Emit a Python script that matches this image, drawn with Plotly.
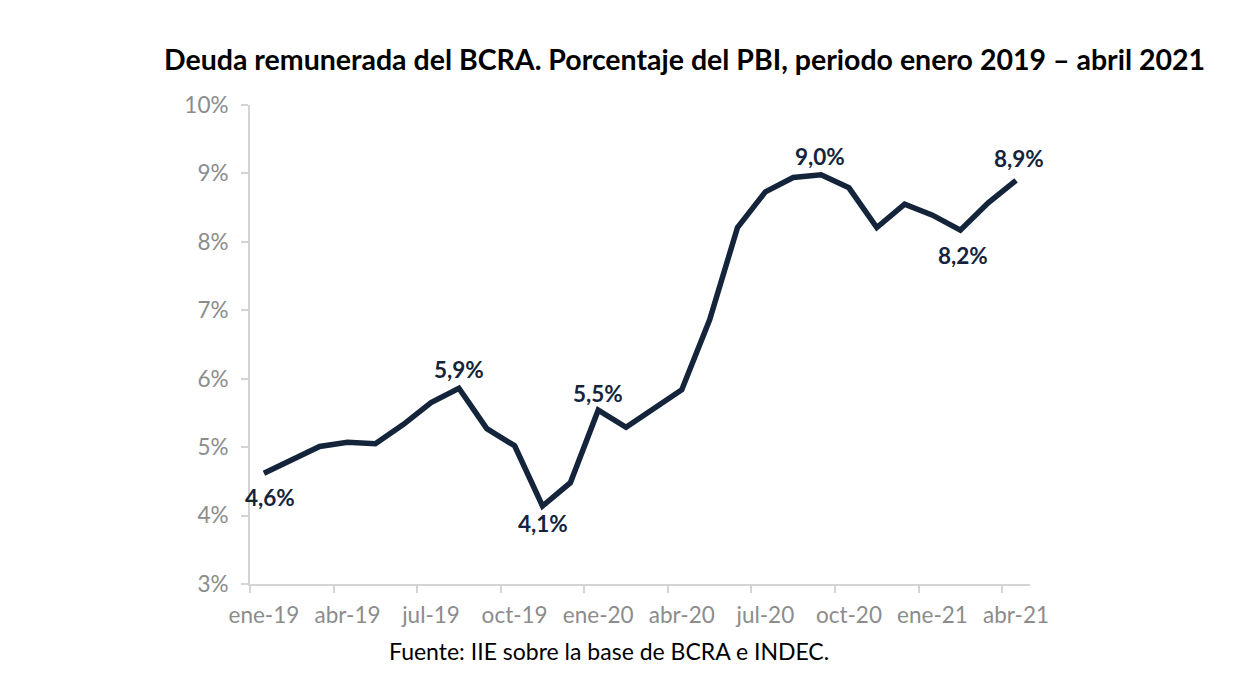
import plotly.graph_objects as go

months = ["ene-19","feb-19","mar-19","abr-19","may-19","jun-19","jul-19","ago-19","sep-19","oct-19","nov-19","dic-19",
          "ene-20","feb-20","mar-20","abr-20","may-20","jun-20","jul-20","ago-20","sep-20","oct-20","nov-20","dic-20",
          "ene-21","feb-21","mar-21","abr-21"]
deuda = [4.62, 4.82, 5.01, 5.07, 5.05, 5.33, 5.65, 5.86, 5.27, 5.02, 4.14, 4.48,
         5.54, 5.29, 5.56, 5.84, 6.86, 8.21, 8.73, 8.94, 8.98, 8.79, 8.21, 8.55,
         8.39, 8.17, 8.57, 8.90]
tick_months = ["ene-19","abr-19","jul-19","oct-19","ene-20","abr-20","jul-20","oct-20","ene-21","abr-21"]
y_ticks = [3, 4, 5, 6, 7, 8, 9, 10]
# labelled points: (month, position)
labelled = [("ene-19", "below"), ("ago-19", "above"), ("nov-19", "below"), ("ene-20", "above"),
            ("sep-20", "above"), ("feb-21", "below"), ("abr-21", "above")]

idx = list(range(len(months)))
navy = "#13243b"
gray = "#8c8c8c"
font_fam = "Lato"

fig = go.Figure()
fig.add_trace(go.Scatter(x=idx, y=deuda, mode="lines",
                         line=dict(color=navy, width=5.5), hoverinfo="skip"))

shifts = {"ene-19": (6, -24), "ago-19": (0, 19), "nov-19": (0, -18), "ene-20": (0, 17),
          "sep-20": (-1, 18), "feb-21": (3, -25), "abr-21": (3, 22)}
for m, pos in labelled:
    i = months.index(m)
    v = deuda[i]
    txt = f"{v:.1f}".replace(".", ",") + "%"
    xs, ys = shifts[m]
    fig.add_annotation(x=i, y=v, text=txt, showarrow=False, xshift=xs, yshift=ys,
                       font=dict(family=font_fam, size=22.5, color=navy, weight="bold"))

fig.add_annotation(x=0.5, y=1.0, xref="paper", yref="paper", xanchor="center", yanchor="bottom",
                   text="<b>Deuda remunerada del BCRA. Porcentaje del PBI, periodo enero 2019 – abril 2021</b>",
                   showarrow=False, xshift=44, yshift=27,
                   font=dict(family=font_fam, size=28.5, color="black"))
fig.add_annotation(x=0.5, y=0, xref="paper", yref="paper", xanchor="center", yanchor="top",
                   text="Fuente: IIE sobre la base de BCRA e INDEC.", showarrow=False,
                   xshift=-31, yshift=-51,
                   font=dict(family=font_fam, size=23, color="black"))

fig.update_xaxes(range=[-0.5, 27.5], tickvals=[months.index(t) for t in tick_months], ticktext=tick_months,
                 ticks="", showgrid=False, zeroline=False, showline=True, linecolor="#d4d4d4", linewidth=2,
                 tickfont=dict(family=font_fam, size=22.5, color=gray), ticklabelstandoff=10,
                 minor=dict(tick0=-0.5, dtick=3, ticks="outside", ticklen=7, tickcolor="#d4d4d4",
                            tickwidth=2, showgrid=False))
fig.update_yaxes(range=[3, 10], tickvals=y_ticks, ticktext=[f"{t}%" for t in y_ticks],
                 ticks="outside", ticklen=7, tickcolor="#d4d4d4", tickwidth=2,
                 showgrid=False, zeroline=False, showline=True, linecolor="#d4d4d4", linewidth=2,
                 tickfont=dict(family=font_fam, size=22.5, color=gray), ticklabelstandoff=8)

fig.update_layout(width=1243, height=695, margin=dict(l=250, r=213, t=105, b=111),
                  plot_bgcolor="white", paper_bgcolor="white", showlegend=False)

fig.write_html("out.html")
